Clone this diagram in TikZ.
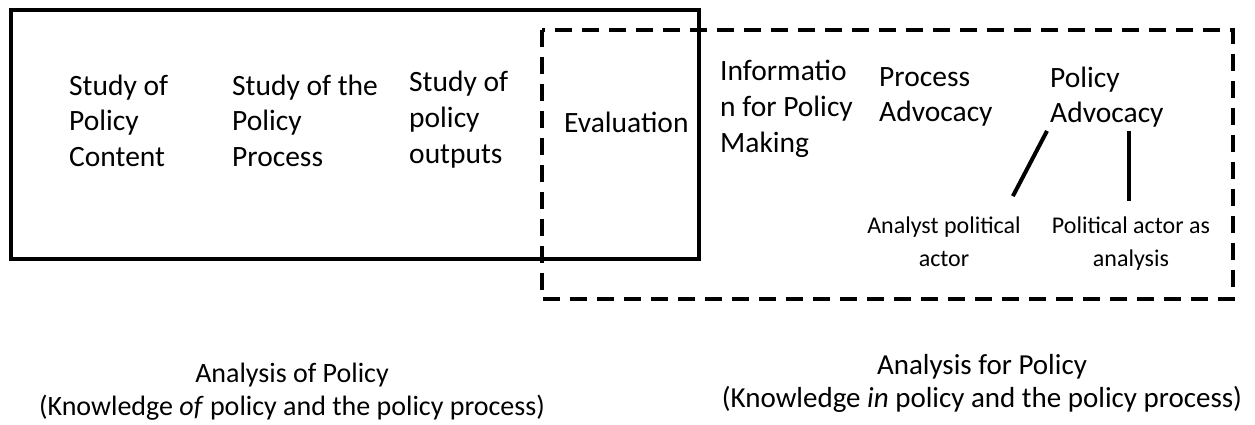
\documentclass[tikz,border=0pt]{standalone}
\usepackage{fontspec}
\setmainfont{Carlito}
\usepackage{tikz}
\usetikzlibrary{positioning}
\usetikzlibrary{calc}
% base of a multi-line node is its last line
\tikzstyle{txt}=[align=left,anchor=base west,inner sep=0pt]
\tikzstyle{role}=[align=center,anchor=base,inner sep=0pt,font=\fontsize{24}{33}\selectfont]
\tikzstyle{heading}=[align=center,anchor=base,inner sep=0pt,font=\fontsize{28}{33}\selectfont]
\tikzstyle{link}=[line width=4pt]

\begin{document}
\begin{tikzpicture}[x=1pt,y=-1pt,font=\fontsize{29.5}{35.5}\selectfont]
	\useasboundingbox (0,0) rectangle (1255,425);
	% the two overlapping frames
	\draw[line width=4pt] (11,10) rectangle (699,259);
	\draw[line width=4pt,dash pattern=on 17pt off 10pt] (542,30) rectangle (1233,299);

	\node[txt] (content) at (69,166) {Study of\\Policy\\Content};
	\node[txt] (process) at (232,166) {Study of the\\Policy\\Process};
	\node[txt] (outputs) at (409,163) {Study of\\policy\\outputs};
	\node[txt] (evaluation) at (564,132) {Evaluation};
	\node[txt] (information) at (720,152) {Informatio\\n for Policy\\Making};
	\node[txt] (procadv) at (879,122) {Process\\Advocacy};
	\node[txt] (poladv) at (1050,123) {Policy\\Advocacy};

	\node[role] (analyst) at (944,266) {Analyst political\\actor};
	\node[role] (actor) at (1131,266) {Political actor as\\analysis};

	\draw[link] ($(poladv.south west)+(-3,3)$) -- ($(analyst.north east)+(-8,-20)$);
	\draw[link] ($(actor.north |- poladv.south)+(-2,3)$) -- ($(actor.north)+(-2,-15)$);

	\node[heading] (ofpolicy) at (292,415) {Analysis of Policy\\(Knowledge \textit{of} policy and the policy process)};
	\node[heading,font=\fontsize{29}{32.5}\selectfont] (forpolicy) at (982,407) {Analysis for Policy\\(Knowledge \textit{in} policy and the policy process)};
\end{tikzpicture}
\end{document}
